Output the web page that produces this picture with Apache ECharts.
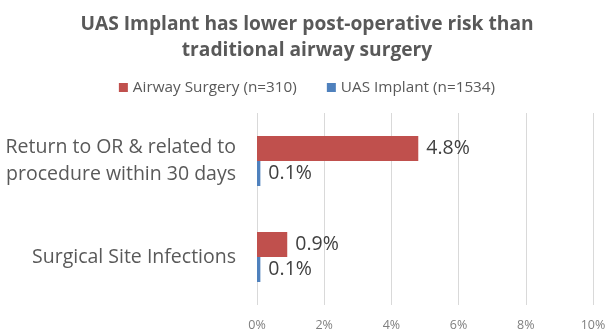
<!DOCTYPE html>
<html>
<head>
<meta charset="utf-8">
<script src="https://cdn.jsdelivr.net/npm/echarts@6/dist/echarts.min.js"></script>
<style>
  html, body { margin: 0; padding: 0; background: #fff; }
  #chart { width: 614px; height: 334px; }
</style>
</head>
<body>
<div id="chart"></div>
<script>
const categories = ['Return to OR & related to\nprocedure within 30 days', 'Surgical Site Infections'];
const airwaySurgery = [4.8, 0.9];
const uasImplant = [0.1, 0.1];
const seriesNames = ['Airway Surgery (n=310)', 'UAS Implant (n=1534)'];
const titleText = 'UAS Implant has lower post-operative risk than\ntraditional airway surgery';

const font = '"Open Sans", "Liberation Sans", sans-serif';
const chart = echarts.init(document.getElementById('chart'));

const labelStyle = {
  show: true,
  position: 'right',
  distance: 8,
  formatter: p => p.value + '%',
  color: '#404040',
  fontFamily: font,
  fontSize: 19.5
};

chart.setOption({
  animation: false,
  backgroundColor: '#fff',
  title: {
    text: titleText,
    left: 'center',
    top: 7,
    textStyle: {
      fontFamily: font,
      fontWeight: 'bold',
      fontSize: 19.2,
      lineHeight: 26,
      color: '#595959'
    }
  },
  legend: {
    top: 75,
    left: 'center',
    itemWidth: 9,
    itemHeight: 9,
    itemGap: 30,
    icon: 'rect',
    textStyle: { fontFamily: font, fontSize: 15.3, color: '#595959' },
    data: seriesNames
  },
  grid: { left: 257, right: 21, top: 113, bottom: 29, containLabel: false },
  xAxis: {
    type: 'value',
    min: 0,
    max: 10,
    interval: 2,
    axisLine: { show: false },
    axisTick: { show: false },
    splitLine: { lineStyle: { color: '#d9d9d9', width: 1 } },
    axisLabel: {
      formatter: '{value}%',
      fontFamily: font,
      fontSize: 12.5,
      color: '#7f7f7f',
      margin: 14
    }
  },
  yAxis: {
    type: 'category',
    inverse: true,
    data: categories,
    axisLine: { show: false },
    axisTick: { show: false },
    axisLabel: {
      fontFamily: font,
      fontSize: 19.5,
      lineHeight: 27,
      color: '#595959',
      margin: 21,
      align: 'right'
    }
  },
  series: [
    {
      name: seriesNames[0],
      type: 'bar',
      data: airwaySurgery,
      barWidth: 25,
      barGap: '0%',
      itemStyle: { color: '#C0504D' },
      label: labelStyle
    },
    {
      name: seriesNames[1],
      type: 'bar',
      data: uasImplant,
      barWidth: 25,
      barGap: '0%',
      itemStyle: { color: '#4F81BD' },
      label: labelStyle
    }
  ]
});
</script>
</body>
</html>
